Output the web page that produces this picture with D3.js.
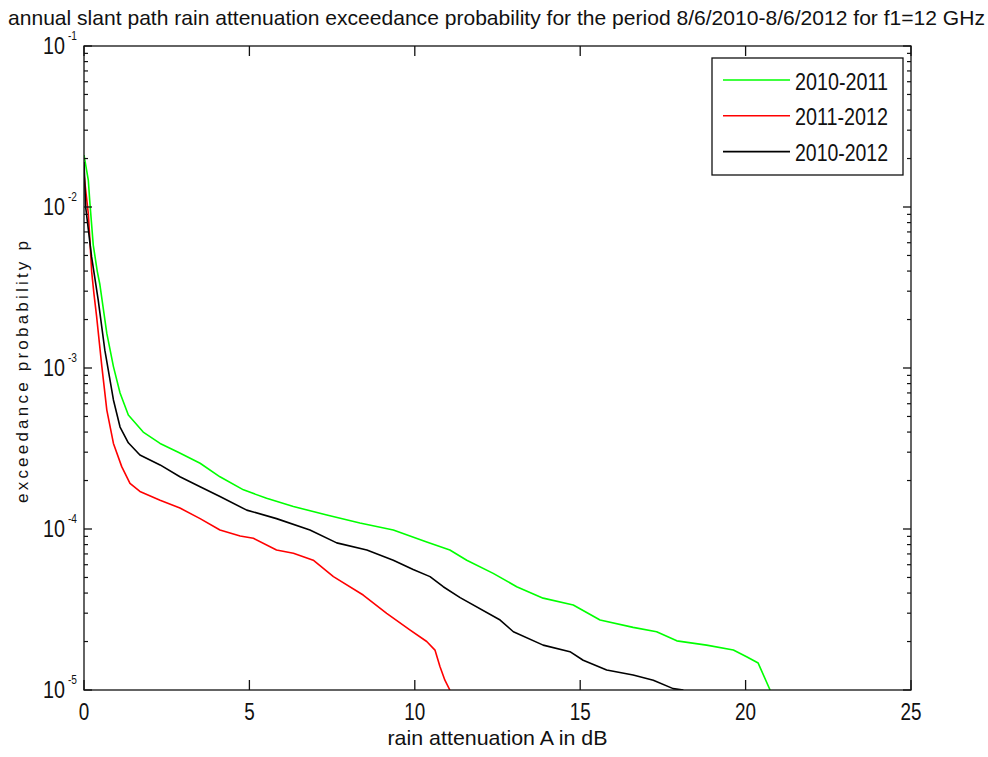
<!DOCTYPE html>
<html>
<head>
<meta charset="utf-8">
<script src="https://cdn.jsdelivr.net/npm/d3@7/dist/d3.min.js"></script>
<style>
  html, body { margin: 0; padding: 0; background: #fff; }
  svg { display: block; }
  text { font-family: "Liberation Sans", Arial, sans-serif; fill: #111; }
</style>
</head>
<body>
<svg id="chart" width="988" height="757"></svg>
<script>
// ---- data ----
const titleText = "annual slant path rain attenuation exceedance probability for the period 8/6/2010-8/6/2012 for f1=12 GHz";
const xLabel = "rain attenuation A in dB";
const yLabel = "exceedance probability p";
const xTicks = [0, 5, 10, 15, 20, 25];
const yTickExps = [-1, -2, -3, -4, -5];
const seriesNames = ["2010-2011", "2011-2012", "2010-2012"];
const seriesColors = ["#00ff00", "#ff0000", "#000000"];

const greenA = [0, 0.13, 0.18, 0.28, 0.40, 0.48, 0.69, 0.89, 1.09, 1.34, 1.79, 2.30, 2.85, 3.51, 4.11, 4.82, 5.52, 6.33, 7.34, 8.34, 9.35, 10.36, 11.06, 11.57, 12.37, 13.08, 13.88, 14.79, 15.6, 16.6, 17.31, 17.92, 18.82, 19.63, 20.03, 20.38, 20.74];
const greenP = [0.021, 0.0147, 0.0105, 0.0058, 0.0040, 0.0033, 0.00164, 0.00102, 0.00070, 0.00051, 0.00040, 0.00034, 0.00030, 0.000256, 0.000211, 0.000175, 0.000155, 0.000138, 0.000122, 0.000109, 0.0000986, 0.000083, 0.000074, 0.000064, 0.000053, 0.0000438, 0.0000372, 0.0000337, 0.0000272, 0.0000245, 0.000023, 0.0000202, 0.000019, 0.0000177, 0.0000161, 0.0000147, 0.00001];

const redA = [0, 0.05, 0.13, 0.18, 0.23, 0.30, 0.38, 0.54, 0.69, 0.89, 1.14, 1.39, 1.69, 2.30, 2.90, 3.51, 4.11, 4.72, 5.12, 5.82, 6.33, 6.93, 7.54, 8.44, 9.15, 9.85, 10.36, 10.61, 10.76, 10.91, 11.06];
const redP = [0.016, 0.0128, 0.0091, 0.0062, 0.0040, 0.0029, 0.0021, 0.00102, 0.000548, 0.00034, 0.000244, 0.000192, 0.000171, 0.000151, 0.000135, 0.000116, 0.0000986, 0.0000905, 0.0000875, 0.000074, 0.0000707, 0.000064, 0.0000506, 0.0000389, 0.0000299, 0.0000236, 0.00002, 0.0000177, 0.000014, 0.0000115, 0.00001];

const blackA = [0, 0.05, 0.23, 0.43, 0.63, 0.89, 1.09, 1.34, 1.69, 2.30, 2.90, 3.51, 4.11, 4.92, 5.82, 6.83, 7.64, 8.55, 9.35, 9.95, 10.46, 10.86, 11.37, 12.58, 12.98, 13.88, 14.69, 15.09, 15.8, 16.6, 17.21, 17.81, 18.12];
const blackP = [0.019, 0.010, 0.0049, 0.00264, 0.00129, 0.000633, 0.00043, 0.000343, 0.000288, 0.00025, 0.000211, 0.000183, 0.000159, 0.000131, 0.000116, 0.0000986, 0.000082, 0.000074, 0.000064, 0.000056, 0.0000506, 0.0000438, 0.0000375, 0.0000272, 0.000023, 0.000019, 0.0000173, 0.0000153, 0.0000133, 0.0000124, 0.0000115, 0.0000102, 0.00001];

// ---- layout ----
const L = 84, R = 911, T = 46, B = 690;
const svg = d3.select("#chart");
const x = d3.scaleLinear().domain([0, 25]).range([L, R]);
const y = d3.scaleLog().domain([1e-5, 1e-1]).range([B, T]);

function squish(sel, len, adj) {
  sel.attr("textLength", len).attr("lengthAdjust", adj || "spacingAndGlyphs");
  return sel;
}

// title
squish(svg.append("text").attr("x", 8).attr("y", 25).attr("font-size", 21).text(titleText), 977);

// clip
svg.append("clipPath").attr("id", "clip").append("rect")
  .attr("x", L).attr("y", T).attr("width", R - L).attr("height", B - T);

// series
const series = [
  {A: greenA, P: greenP, c: seriesColors[0]},
  {A: redA, P: redP, c: seriesColors[1]},
  {A: blackA, P: blackP, c: seriesColors[2]}
];
const line = d3.line().x(d => x(d[0])).y(d => y(d[1]));
const g = svg.append("g").attr("clip-path", "url(#clip)");
series.forEach(s => {
  g.append("path")
    .attr("d", line(s.A.map((a, i) => [a, s.P[i]])))
    .attr("fill", "none").attr("stroke", s.c).attr("stroke-width", 1.6)
    .attr("stroke-linejoin", "round");
});

// axes box + ticks
const axisG = svg.append("g").attr("stroke", "#111").attr("fill", "none");
axisG.append("rect").attr("x", L).attr("y", T).attr("width", R - L).attr("height", B - T).attr("stroke-width", 1.3);

// x ticks bottom and top (inward)
xTicks.forEach(t => {
  axisG.append("line").attr("x1", x(t)).attr("x2", x(t)).attr("y1", B).attr("y2", B - 10).attr("stroke-width", 1.3);
  axisG.append("line").attr("x1", x(t)).attr("x2", x(t)).attr("y1", T).attr("y2", T + 10).attr("stroke-width", 1.3);
});
// y ticks major/minor on left and right
const minor = [];
for (let e = -5; e < -1; e++) for (let m = 2; m <= 9; m++) minor.push(m * Math.pow(10, e));
minor.forEach(v => {
  axisG.append("line").attr("x1", L).attr("x2", L + 4).attr("y1", y(v)).attr("y2", y(v)).attr("stroke-width", 1.2);
  axisG.append("line").attr("x1", R).attr("x2", R - 4).attr("y1", y(v)).attr("y2", y(v)).attr("stroke-width", 1.2);
});
yTickExps.forEach(e => {
  const v = Math.pow(10, e);
  axisG.append("line").attr("x1", L).attr("x2", L + 8).attr("y1", y(v)).attr("y2", y(v)).attr("stroke-width", 1.3);
  axisG.append("line").attr("x1", R).attr("x2", R - 8).attr("y1", y(v)).attr("y2", y(v)).attr("stroke-width", 1.3);
});

// x tick labels
xTicks.forEach(t => {
  const s = String(t);
  squish(svg.append("text").attr("x", x(t)).attr("y", 720).attr("text-anchor", "middle")
    .attr("font-size", 23).text(s), s.length * 10.5);
});
// y tick labels
yTickExps.forEach(e => {
  const yy = y(Math.pow(10, e));
  squish(svg.append("text").attr("x", 43).attr("y", yy + 8).attr("font-size", 23).text("10"), 22);
  squish(svg.append("text").attr("x", 68).attr("y", yy - 6).attr("font-size", 12).text(String(e)), 9);
});

// axis labels
squish(svg.append("text").attr("x", (L + R) / 2).attr("y", 745).attr("text-anchor", "middle")
  .attr("font-size", 21).text(xLabel), 220);
squish(svg.append("text").attr("transform", "translate(28,372) rotate(-90)").attr("text-anchor", "middle")
  .attr("font-size", 17).text(yLabel), 262, "spacing");

// legend
const lg = svg.append("g");
lg.append("rect").attr("x", 712).attr("y", 58).attr("width", 191).attr("height", 117)
  .attr("fill", "#fff").attr("stroke", "#111").attr("stroke-width", 1.3);
seriesNames.forEach((n, i) => {
  const ly = 80 + i * 35.8;
  lg.append("line").attr("x1", 723).attr("x2", 790).attr("y1", ly).attr("y2", ly)
    .attr("stroke", seriesColors[i]).attr("stroke-width", 1.6);
  squish(lg.append("text").attr("x", 795).attr("y", ly + 9.5).attr("font-size", 23).text(n), 93);
});
</script>
</body>
</html>
